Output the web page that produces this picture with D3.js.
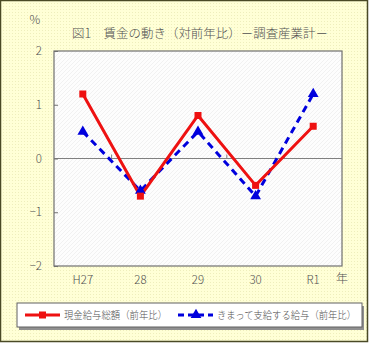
<!DOCTYPE html>
<html><head><meta charset="utf-8">
<script src="https://cdn.jsdelivr.net/npm/d3@7"></script>
<style>body{margin:0;background:#fff}svg{display:block}text{font-family:"Noto Sans CJK JP","Noto Sans",sans-serif;font-weight:300}</style>
</head><body>
<script>
const categories = ["H27","28","29","30","R1"];
const cashTotal = [1.2,-0.7,0.8,-0.5,0.6];
const regularPay = [0.5,-0.6,0.5,-0.7,1.2];
const yTicks = [2,1,0,-1,-2];
const seriesNames = ["現金給与総額（前年比）","きまって支給する給与（前年比）"];
const title = "図1　賃金の動き（対前年比）－調査産業計－";

const W=370,H=344;
const svg=d3.select("body").append("svg").attr("width",W).attr("height",H);
const defs=svg.append("defs");
const pd=defs.append("pattern").attr("id","dots").attr("width",3).attr("height",3).attr("patternUnits","userSpaceOnUse");
pd.append("rect").attr("width",3).attr("height",3).attr("fill","#ffffd6");
pd.append("rect").attr("width",1).attr("height",1).attr("fill","#eeeebc");
const ph=defs.append("pattern").attr("id","hatch").attr("width",4).attr("height",4).attr("patternUnits","userSpaceOnUse");
ph.append("rect").attr("width",4).attr("height",4).attr("fill","#fdfdfd");
ph.append("path").attr("d","M0,4L4,0").attr("stroke","#eeeeee").attr("stroke-width",0.8);

svg.append("rect").attr("x",0.5).attr("y",0.5).attr("width",W-3).attr("height",H-3).attr("fill","url(#dots)").attr("stroke","#4a4a26").attr("stroke-width",1.5);

const m={l:54,r:342,t:51,b:266};
const x=d3.scaleBand().domain(categories).range([m.l,m.r]);
const y=d3.scaleLinear().domain([-2,2]).range([m.b,m.t]);

svg.append("rect").attr("x",m.l).attr("y",m.t).attr("width",m.r-m.l).attr("height",m.b-m.t).attr("fill","url(#hatch)").attr("stroke","#707070").attr("stroke-width",1.2);

svg.append("line").attr("x1",m.l).attr("x2",m.r).attr("y1",y(0)).attr("y2",y(0)).attr("stroke","#808080").attr("stroke-width",1.2);
categories.slice(1).forEach(c=>{
  svg.append("line").attr("x1",x(c)).attr("x2",x(c)).attr("y1",y(0)).attr("y2",y(0)-4).attr("stroke","#808080");
});

const ya=d3.axisLeft(y).tickValues(yTicks).tickSize(-4).tickPadding(12).tickFormat(d=>d<0?"−"+Math.abs(d):d);
const yg=svg.append("g").attr("transform",`translate(${m.l},0)`).call(ya);
yg.select(".domain").remove();
yg.selectAll(".tick line").attr("stroke","#707070");
yg.selectAll("text").attr("font-size",11.5).attr("fill","#505050").attr("font-family","Arial,'Liberation Sans',sans-serif");

const xa=d3.axisBottom(x).tickSize(0).tickPadding(10);
const xg=svg.append("g").attr("transform",`translate(0,${m.b})`).call(xa);
xg.select(".domain").remove();
xg.selectAll("text").attr("font-size",11.5).attr("fill","#505050").attr("font-family","Arial,'Liberation Sans',sans-serif");

svg.append("text").attr("x",35).attr("y",24).attr("text-anchor","middle").attr("font-size",12).attr("fill","#505050").text("%");
svg.append("text").attr("x",342).attr("y",283).attr("text-anchor","middle").attr("font-size",12).attr("fill","#505050").text("年");
svg.append("text").attr("x",72).attr("y",38).attr("font-size",12.5).attr("fill","#505050").attr("textLength",256).attr("lengthAdjust","spacingAndGlyphs").text(title);

const cx=d=>x(d)+x.bandwidth()/2;
const line=d3.line().x((d,i)=>cx(categories[i])).y(d=>y(d));
svg.append("path").datum(regularPay).attr("d",line).attr("fill","none").attr("stroke","#0000dd").attr("stroke-width",3).attr("stroke-dasharray","7,5");
svg.append("path").datum(cashTotal).attr("d",line).attr("fill","none").attr("stroke","#ee1111").attr("stroke-width",3);
const tri=d3.symbol().type(d3.symbolTriangle).size(50);
svg.selectAll(".tri").data(regularPay).join("path").attr("transform",(d,i)=>`translate(${cx(categories[i])},${y(d)})`).attr("d",tri).attr("fill","#0000dd");
svg.selectAll(".sq").data(cashTotal).join("rect").attr("x",(d,i)=>cx(categories[i])-3.5).attr("y",d=>y(d)-3.5).attr("width",7).attr("height",7).attr("fill","#ee1111");

svg.append("rect").attr("x",19).attr("y",306).attr("width",345).attr("height",24).attr("fill","#909090");
svg.append("rect").attr("x",17).attr("y",303).attr("width",345).attr("height",24).attr("fill","#ffffff").attr("stroke","#606060");
const ly=315;
svg.append("line").attr("x1",25).attr("x2",60).attr("y1",ly).attr("y2",ly).attr("stroke","#ee1111").attr("stroke-width",3);
svg.append("rect").attr("x",39).attr("y",ly-3.5).attr("width",7).attr("height",7).attr("fill","#ee1111");
svg.append("text").attr("x",64).attr("y",ly+4).attr("font-size",10).attr("fill","#505050").attr("textLength",103).attr("lengthAdjust","spacingAndGlyphs").text(seriesNames[0]);
svg.append("line").attr("x1",178).attr("x2",213).attr("y1",ly).attr("y2",ly).attr("stroke","#0000dd").attr("stroke-width",3).attr("stroke-dasharray","6,4");
svg.append("path").attr("transform",`translate(196,${ly})`).attr("d",tri).attr("fill","#0000dd");
svg.append("text").attr("x",217).attr("y",ly+4).attr("font-size",10).attr("fill","#505050").attr("textLength",139).attr("lengthAdjust","spacingAndGlyphs").text(seriesNames[1]);
</script>
</body></html>
